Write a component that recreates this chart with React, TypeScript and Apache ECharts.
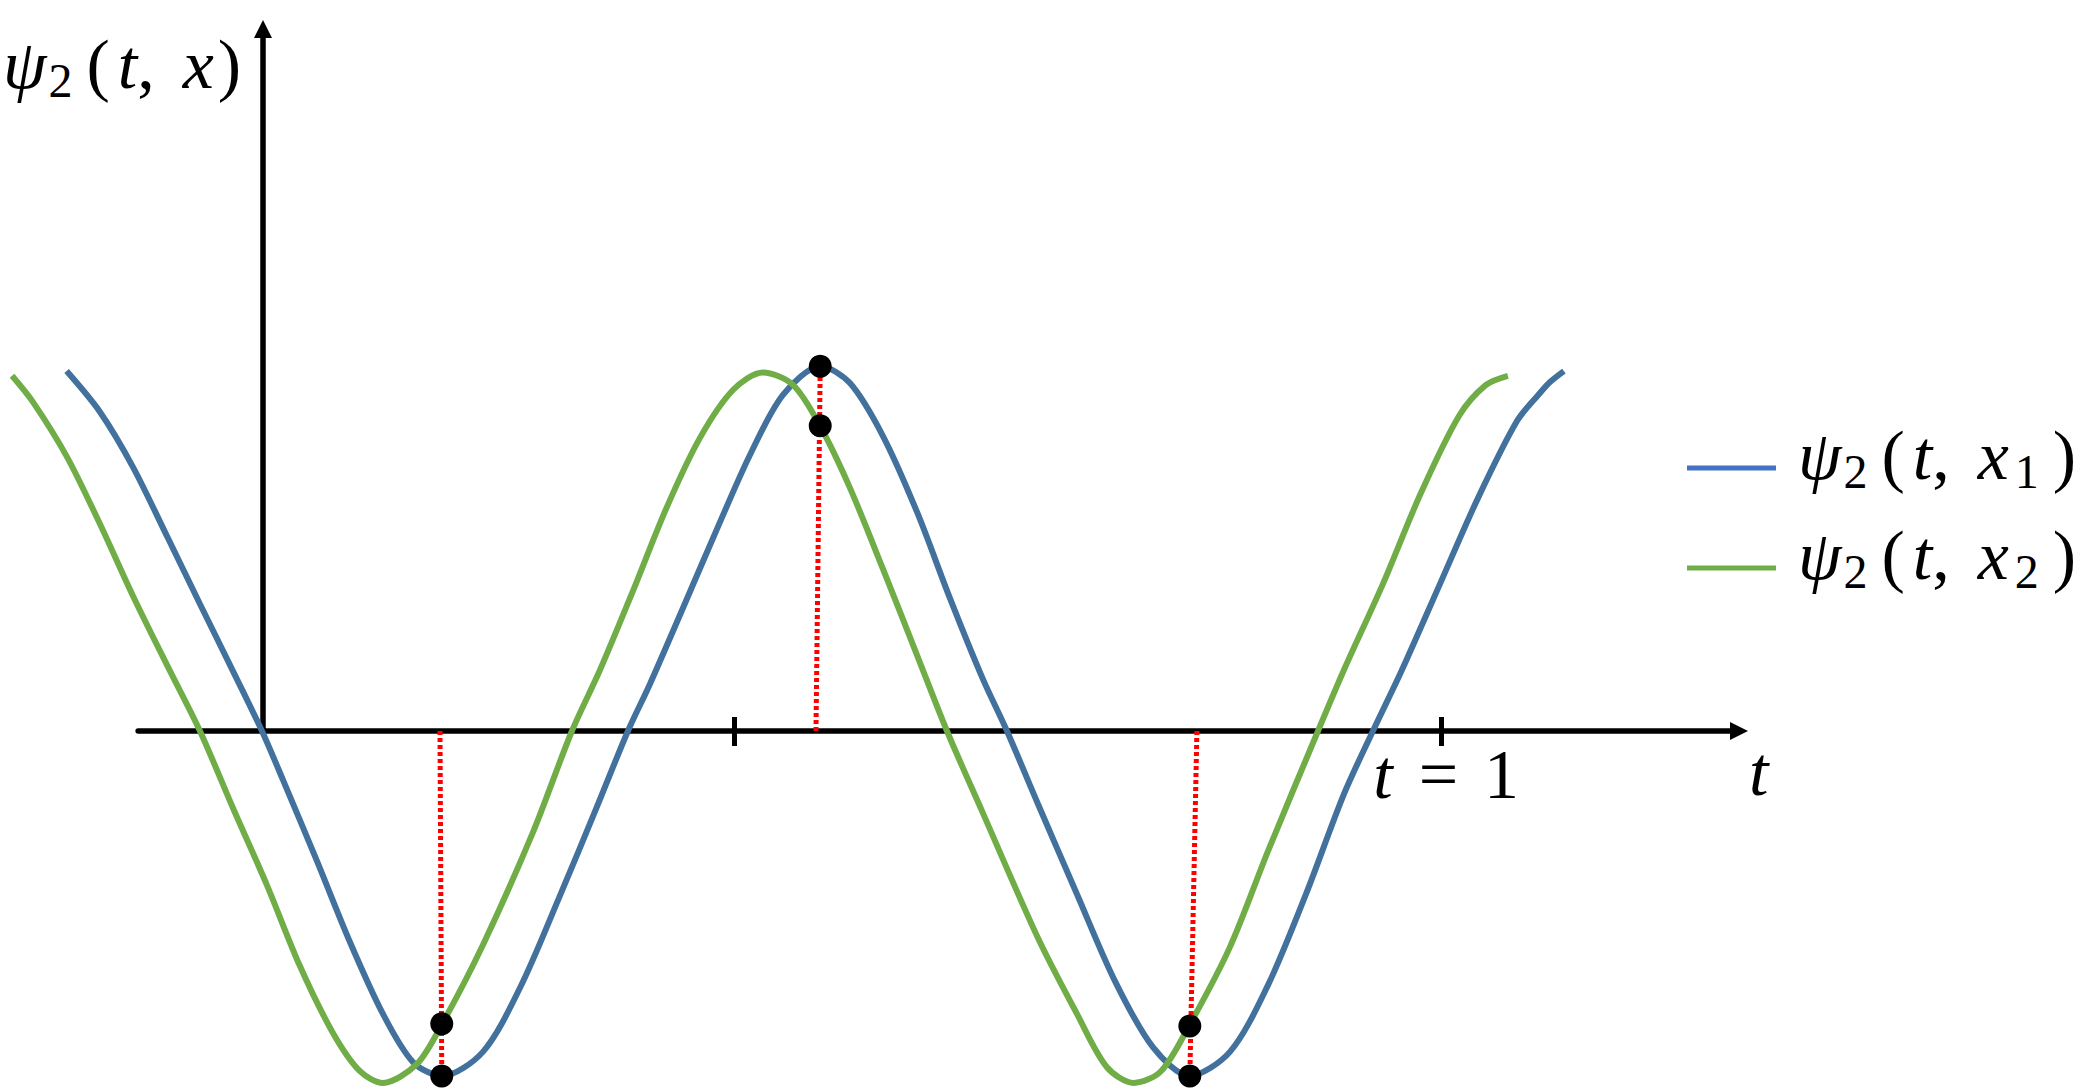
import { useEffect, useRef } from 'react';
import * as echarts from 'echarts';

// ---- data (t on the horizontal axis, ψ on the vertical) ----
const blueCurve: [number, number][] = [
  [-0.1657, 0.986], [-0.1374, 0.874], [-0.1094, 0.723], [-0.0806, 0.534], [-0.0526, 0.348],
  [-0.0246, 0.164], [0, 0], [0.0178, -0.134], [0.0466, -0.356], [0.0746, -0.578],
  [0.1026, -0.775], [0.1281, -0.907], [0.1527, -0.945], [0.1874, -0.879], [0.2194, -0.7],
  [0.2516, -0.46], [0.2838, -0.21], [0.3104, 0], [0.3291, 0.129], [0.3571, 0.337],
  [0.3859, 0.553], [0.4139, 0.756], [0.4419, 0.921], [0.4739, 0.999], [0.4987, 0.953],
  [0.5267, 0.808], [0.5556, 0.6], [0.5835, 0.364], [0.6115, 0.142], [0.6319, 0],
  [0.6582, -0.2], [0.6913, -0.447], [0.7235, -0.685], [0.7557, -0.866], [0.7866, -0.945],
  [0.821, -0.879], [0.8533, -0.696], [0.8855, -0.447], [0.9177, -0.173], [0.9423, 0],
  [0.9669, 0.167], [0.9992, 0.403], [1.0314, 0.638], [1.0645, 0.849], [1.084, 0.926],
  [1.0925, 0.956], [1.1043, 0.986],
];

const greenCurve: [number, number][] = [
  [-0.212, 0.973], [-0.1942, 0.901], [-0.1654, 0.751], [-0.1374, 0.567], [-0.1094, 0.37],
  [-0.0806, 0.181], [-0.0526, 0], [-0.0246, -0.211], [0.0042, -0.422], [0.0322, -0.644],
  [0.0602, -0.827], [0.0831, -0.932], [0.1026, -0.964], [0.1315, -0.912], [0.1527, -0.803],
  [0.1874, -0.586], [0.2299, -0.277], [0.2629, 0], [0.2867, 0.167], [0.3147, 0.384],
  [0.3435, 0.614], [0.3715, 0.803], [0.3995, 0.934], [0.4249, 0.982], [0.4504, 0.948],
  [0.4733, 0.836], [0.4987, 0.666], [0.5267, 0.444], [0.5556, 0.208], [0.581, 0],
  [0.6115, -0.225], [0.6582, -0.567], [0.6913, -0.775], [0.7167, -0.921], [0.7396, -0.964],
  [0.7625, -0.932], [0.7863, -0.808], [0.821, -0.592], [0.8533, -0.329], [0.8957, 0],
  [0.9177, 0.167], [0.9508, 0.403], [0.983, 0.652], [1.0153, 0.863], [1.0382, 0.948],
  [1.0568, 0.973],
];

const markerT = [0.1525, 0.4735, 0.787];
const markerBlueV = [-0.945, 0.999, -0.945];
const markerGreenV = [-0.802, 0.836, -0.808];
const guideFootT = [0.151, 0.4699, 0.793];
const tickValues = [0.4, 1];
const tickLabelValues = [1];
const seriesNames = ['ψ₂(t, x₁)', 'ψ₂(t, x₂)'];
const seriesSubscripts = ['1', '2'];

const FONT = 'Liberation Serif';
const CURVE_BLUE = '#41719C';
const CURVE_GREEN = '#70AD47';
const LEGEND_BLUE = '#4472C4';
const LEGEND_GREEN = '#70AD47';

const base = { fontFamily: FONT, fontSize: 70, lineHeight: 80, color: '#000' };
const rich: any = {
  i: { ...base, fontStyle: 'italic' },
  r: { ...base },
  s: { fontFamily: FONT, fontSize: 48, lineHeight: 50, verticalAlign: 'bottom', color: '#000', padding: [0, 14, 0, 2] },
  p: { ...base, padding: [0, 8, 0, 0] },
  c: { ...base, padding: [0, 28, 0, 0] },
  x: { ...base, fontStyle: 'italic', padding: [0, 4, 0, 0] },
  e: { ...base, padding: [0, 26, 0, 26] },
  ti: { ...base, fontStyle: 'italic', padding: [0, 0, 0, 10] },
};

const psiLabel = (sub: string) =>
  `{i|ψ}{s|2}{p|(}{i|t}{c|,}{x|x}${sub ? `{s|${sub}}` : ''}{r|)}`;

export default function App() {
  const ref = useRef<HTMLDivElement>(null);

  useEffect(() => {
    if (!ref.current) return;
    const chart = echarts.init(ref.current, undefined, { renderer: 'svg' });

    const guideSeries = guideFootT.map((t, i) => ({
      type: 'line',
      name: `guide${i}`,
      xAxisIndex: 2,
      yAxisIndex: 1,
      data: [[t, 0], [markerT[i], markerBlueV[i]]],
      showSymbol: false,
      silent: true,
      z: 4,
      lineStyle: { color: '#FF0000', width: 5, type: [4, 3], cap: 'butt' },
    }));

    const hiddenAxis = {
      type: 'value',
      show: false,
      axisLine: { show: false, onZero: false },
      axisTick: { show: false },
      axisLabel: { show: false },
      splitLine: { show: false },
    };

    chart.setOption({
      animation: false,
      backgroundColor: '#ffffff',
      textStyle: { fontFamily: FONT },
      grid: [
        // the drawn axes
        { left: 137, top: 29, width: 1602, height: 702, containLabel: false },
        // same scale, stretched over the whole canvas, for the curves
        { left: 0, top: 0, width: 2078, height: 1089, containLabel: false },
      ],
      legend: {
        orient: 'vertical',
        left: 1687,
        top: 420,
        padding: 0,
        itemGap: 25,
        itemWidth: 89,
        itemHeight: 5,
        icon: 'rect',
        selectedMode: false,
        data: [
          { name: seriesNames[0], itemStyle: { color: LEGEND_BLUE } },
          { name: seriesNames[1], itemStyle: { color: LEGEND_GREEN } },
        ],
        formatter: (name: string) => psiLabel(seriesSubscripts[seriesNames.indexOf(name)]),
        textStyle: { rich, padding: [0, 0, 26, 17] },
      },
      xAxis: [
        {
          type: 'value',
          gridIndex: 0,
          min: -0.106,
          max: 1.2528,
          position: 'bottom',
          axisLine: {
            show: true,
            onZero: false,
            symbol: ['none', 'triangle'],
            symbolSize: [18, 18],
            lineStyle: { color: '#000', width: 5.5 },
          },
          axisTick: {
            show: true,
            customValues: tickValues,
            length: 15,
            lineStyle: { color: '#000', width: 5 },
          },
          axisLabel: {
            show: true,
            customValues: tickLabelValues,
            margin: 3,
            formatter: (v: number) => `{ti|t}{e|=}{r|${v}}`,
            rich,
          },
          splitLine: { show: false },
          name: '{i|t}',
          nameLocation: 'end',
          nameGap: 10,
          nameTextStyle: { align: 'left', verticalAlign: 'top', rich },
        },
        {
          type: 'value',
          gridIndex: 0,
          min: -0.106,
          max: 1.2528,
          position: 'bottom',
          axisLine: { show: false, onZero: false },
          axisTick: {
            show: true,
            inside: true,
            customValues: tickValues,
            length: 14,
            lineStyle: { color: '#000', width: 5 },
          },
          axisLabel: { show: false },
          splitLine: { show: false },
        },
        { ...hiddenAxis, gridIndex: 1, min: -0.2222, max: 1.54034 },
      ],
      yAxis: [
        {
          type: 'value',
          gridIndex: 0,
          min: 0,
          max: 1.923,
          axisLine: {
            show: true,
            onZero: true,
            symbol: ['none', 'triangle'],
            symbolSize: [18, 18],
            lineStyle: { color: '#000', width: 5.5 },
          },
          axisTick: { show: false },
          axisLabel: { show: false },
          splitLine: { show: false },
          name: psiLabel(''),
          nameLocation: 'end',
          nameGap: -75,
          nameTextStyle: { align: 'right', verticalAlign: 'bottom', padding: [0, 22, 0, 0], rich },
        },
        { ...hiddenAxis, gridIndex: 1, min: -0.98067, max: 2.00244 },
      ],
      series: [
        {
          type: 'line',
          name: seriesNames[0],
          xAxisIndex: 2,
          yAxisIndex: 1,
          data: blueCurve,
          smooth: 0.3,
          showSymbol: false,
          z: 2,
          color: CURVE_BLUE,
          lineStyle: { color: CURVE_BLUE, width: 6 },
        },
        {
          type: 'line',
          name: seriesNames[1],
          xAxisIndex: 2,
          yAxisIndex: 1,
          data: greenCurve,
          smooth: 0.3,
          showSymbol: false,
          z: 3,
          color: CURVE_GREEN,
          lineStyle: { color: CURVE_GREEN, width: 6 },
        },
        ...guideSeries,
        {
          type: 'scatter',
          name: 'markers',
          xAxisIndex: 2,
          yAxisIndex: 1,
          data: [
            ...markerT.map((t, i) => [t, markerBlueV[i]]),
            ...markerT.map((t, i) => [t, markerGreenV[i]]),
          ],
          symbol: 'circle',
          symbolSize: 23,
          silent: true,
          z: 5,
          itemStyle: { color: '#000', opacity: 1 },
        },
      ],
    });

    return () => chart.dispose();
  }, []);

  return (
    <div
      ref={ref}
      style={{ position: 'absolute', left: 0, top: 0, width: 2078, height: 1089, background: '#fff' }}
    />
  );
}
